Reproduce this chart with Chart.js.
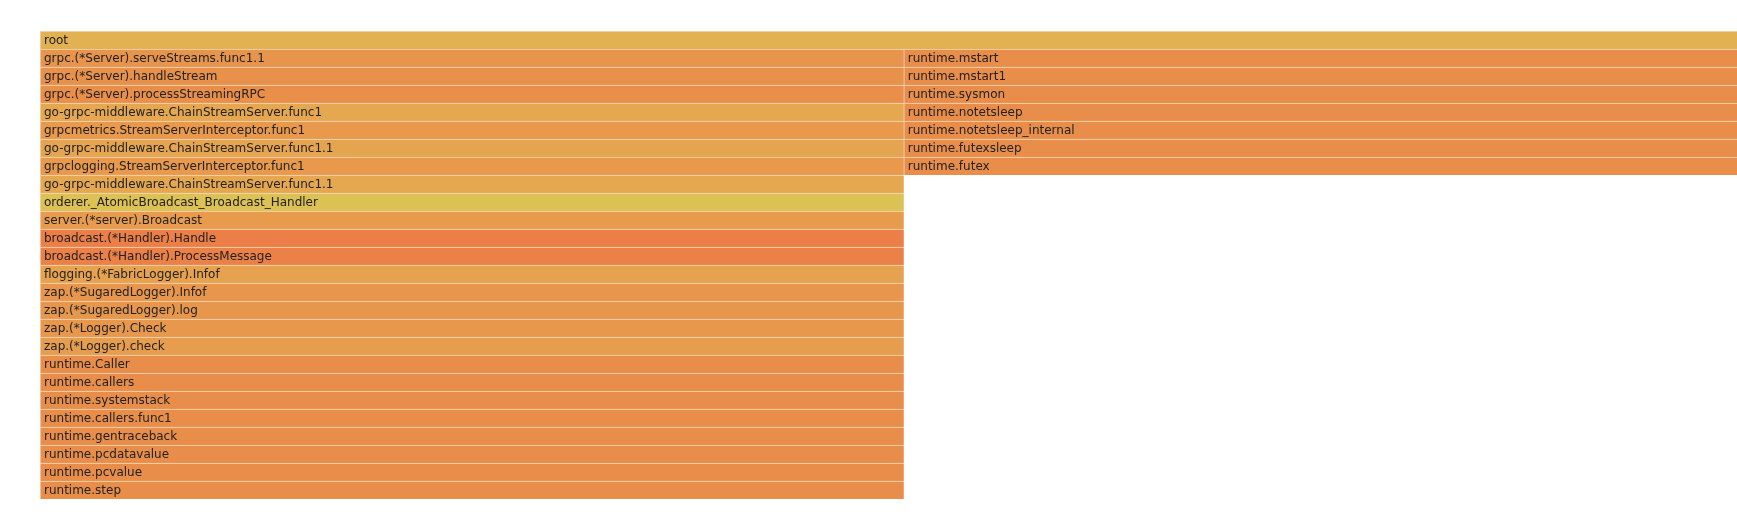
<!DOCTYPE html>
<html>
<head>
<meta charset="utf-8">
<script src="https://cdn.jsdelivr.net/npm/chart.js@4"></script>
<style>
  html, body { margin: 0; padding: 0; background: #fff; }
  #wrap { width: 1737px; height: 522px; position: relative; }
</style>
</head>
<body>
<div id="wrap"><canvas id="flame"></canvas></div>
<script>
// flame graph data (sample counts)
const totalSamples = 1000;
const rootName = "root";

const leftFrames = [
  "grpc.(*Server).serveStreams.func1.1",
  "grpc.(*Server).handleStream",
  "grpc.(*Server).processStreamingRPC",
  "go-grpc-middleware.ChainStreamServer.func1",
  "grpcmetrics.StreamServerInterceptor.func1",
  "go-grpc-middleware.ChainStreamServer.func1.1",
  "grpclogging.StreamServerInterceptor.func1",
  "go-grpc-middleware.ChainStreamServer.func1.1",
  "orderer._AtomicBroadcast_Broadcast_Handler",
  "server.(*server).Broadcast",
  "broadcast.(*Handler).Handle",
  "broadcast.(*Handler).ProcessMessage",
  "flogging.(*FabricLogger).Infof",
  "zap.(*SugaredLogger).Infof",
  "zap.(*SugaredLogger).log",
  "zap.(*Logger).Check",
  "zap.(*Logger).check",
  "runtime.Caller",
  "runtime.callers",
  "runtime.systemstack",
  "runtime.callers.func1",
  "runtime.gentraceback",
  "runtime.pcdatavalue",
  "runtime.pcvalue",
  "runtime.step"
];
const leftSamples = [509, 509, 509, 509, 509, 509, 509, 509, 509, 509, 509, 509, 509,
  509, 509, 509, 509, 509, 509, 509, 509, 509, 509, 509, 509];

const rightFrames = [
  "runtime.mstart",
  "runtime.mstart1",
  "runtime.sysmon",
  "runtime.notetsleep",
  "runtime.notetsleep_internal",
  "runtime.futexsleep",
  "runtime.futex"
];
const rightSamples = [491, 491, 491, 491, 491, 491, 491];

// colours
const rootColor = "#e2b152";
const leftColors = [
  "#e7944d", "#e8914b", "#e98f4a", "#e5a74f", "#e8994c", "#e5a44f", "#e8994c",
  "#e5a850", "#dcc254", "#e89b4d", "#ec7f47", "#ec8148", "#e6a24e", "#e7964c",
  "#e7974c", "#e7984c", "#e69d4d", "#e88e4a", "#e88e4a", "#e88e4a", "#e88e4a",
  "#e88e4a", "#e88e4a", "#e88e4a", "#e88e4a"
];
const rightColor = "#e88e4a";

// build rows
const depth = leftFrames.length + 1;
const rows = [];
for (let i = 0; i < depth; i++) rows.push(String(i));

const rootData = rows.map((r, i) => i === 0 ? [0, totalSamples] : null);
const leftData = rows.map((r, i) => i === 0 ? null : [0, leftSamples[i - 1]]);
const rightData = rows.map((r, i) => {
  if (i === 0 || i > rightFrames.length) return null;
  const start = leftSamples[i - 1];
  return [start, start + rightSamples[i - 1]];
});
const names = [
  [rootName],
  [null].concat(leftFrames),
  [null].concat(rightFrames)
];

const barStyle = {
  borderWidth: { top: 1, left: 1, right: 0, bottom: 0 },
  borderColor: "#f6dcbf",
  borderSkipped: false,
  barPercentage: 1,
  categoryPercentage: 1
};

const frameLabels = {
  id: "frameLabels",
  afterDatasetsDraw(chart) {
    const ctx = chart.ctx;
    ctx.save();
    ctx.font = "12px 'DejaVu Sans', Verdana, sans-serif";
    ctx.fillStyle = "#222";
    ctx.textBaseline = "middle";
    chart.data.datasets.forEach((ds, di) => {
      chart.getDatasetMeta(di).data.forEach((bar, i) => {
        const label = names[di][i];
        if (!label || !ds.data[i]) return;
        const left = Math.min(bar.x, bar.base);
        const w = Math.abs(bar.x - bar.base);
        ctx.save();
        ctx.beginPath();
        ctx.rect(left, bar.y - bar.height / 2, w - 2, bar.height);
        ctx.clip();
        ctx.fillText(label, left + 4, bar.y + 1);
        ctx.restore();
      });
    });
    ctx.restore();
  }
};

new Chart(document.getElementById("flame"), {
  type: "bar",
  data: {
    labels: rows,
    datasets: [
      { label: "root", data: rootData, backgroundColor: rootColor, ...barStyle },
      { label: "left", data: leftData, backgroundColor: [rootColor].concat(leftColors), ...barStyle },
      { label: "right", data: rightData, backgroundColor: rightColor, ...barStyle }
    ]
  },
  options: {
    indexAxis: "y",
    responsive: true,
    maintainAspectRatio: false,
    animation: false,
    layout: { padding: { left: 40, right: 0, top: 31, bottom: 23 } },
    scales: {
      x: { type: "linear", min: 0, max: totalSamples, display: false },
      y: { type: "category", stacked: true, display: false }
    },
    plugins: {
      legend: { display: false },
      tooltip: { enabled: false }
    }
  },
  plugins: [frameLabels]
});
</script>
</body>
</html>
